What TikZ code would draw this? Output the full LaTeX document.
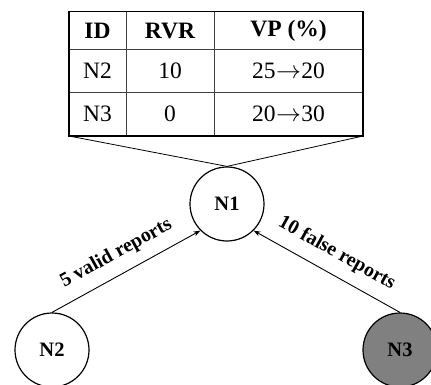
\documentclass[tikz,border=0pt]{standalone}
\usepackage{fontspec}
\setmainfont{Liberation Serif}
\usetikzlibrary{arrows.meta}
\newcommand{\vpto}{\kern0.5pt$\rightarrow$\kern0.5pt}
\begin{document}
\begin{tikzpicture}[x=1pt,y=-1pt,
  peer/.style={circle,draw,line width=1.2pt,minimum size=74pt,inner sep=0pt,
    font=\fontsize{20.5}{24}\selectfont\bfseries},
  report/.style={-{Stealth[length=7pt,width=5pt]},line width=0.9pt},
  replabel/.style={font=\fontsize{20}{24}\selectfont\bfseries,inner sep=1pt},
  cell/.style={font=\fontsize{23.5}{28}\selectfont},
  head/.style={font=\fontsize{23.5}{28}\selectfont\bfseries},
  grid/.style={line width=0.8pt,draw=black!75},
  frame/.style={line width=1.8pt},
  zoomline/.style={line width=0.8pt}]
\useasboundingbox (0,0) rectangle (431,385);
\begin{scope}
\clip (0,0) rectangle (431,385);

% reputation table
\coordinate (tl) at (69,11.5);
\coordinate (tr) at (363,11.5);
\coordinate (bl) at (69,136);
\coordinate (br) at (363,136);
\draw[grid] (69,49) -- (363,49);
\draw[grid] (69,92.5) -- (363,92.5);
\draw[grid] (126,11.5) -- (126,136);
\draw[grid] (214,11.5) -- (214,136);
\draw[frame] (tl) rectangle (br);

\node[head] (hid)  at (97.5,31) {ID};
\node[head] (hrvr) at (170,31) {RVR};
\node[head] (hvp)  at (288.5,31) {VP (\%)};
\node[cell] (n2id) at (97.5,71) {N2};
\node[cell] (n2r)  at (170,71) {10};
\node[cell] (n2v)  at (288.5,71) {25\vpto20};
\node[cell] (n3id) at (97.5,114) {N3};
\node[cell] (n3r)  at (170,114) {0};
\node[cell] (n3v)  at (288.5,114) {20\vpto30};

% nodes
\node[peer] (N1) at (227,204) {N1};
\node[peer] (N2) at (52,350) {N2};
\node[peer,fill=black!50] (N3) at (400,350) {N3};

% table belongs to N1
\draw[zoomline] (bl) -- (N1.north) -- (br);

% reports
\draw[report] (N2.north) -- (N1.south west)
  node[replabel,midway,sloped,above=10pt] {5 valid reports};
\draw[report] (N3.north) -- (N1.south east)
  node[replabel,midway,sloped,above=10pt] {10 false reports};
\end{scope}
\end{tikzpicture}
\end{document}
